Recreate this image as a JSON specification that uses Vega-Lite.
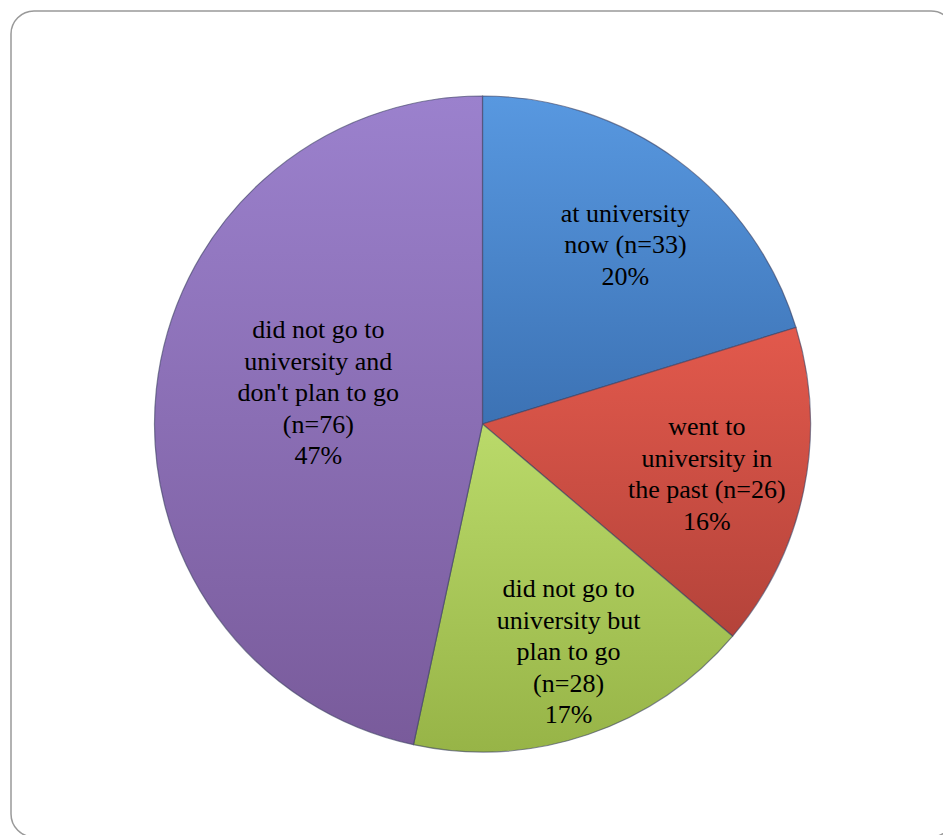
{
  "$schema": "https://vega.github.io/schema/vega-lite/v6.json",
  "width": 943,
  "height": 835,
  "autosize": {"type": "fit", "contains": "padding"},
  "padding": {"left": 11, "top": 11, "right": -11, "bottom": -2},
  "background": "white",
  "view": {"stroke": "#999999", "strokeWidth": 1.5, "cornerRadius": 23, "fill": "white"},
  "config": {"font": "Liberation Serif"},
  "data": {
    "values": [
      {"category": "at university now", "order": 1, "n": 33, "label": "at university\nnow (n=33)\n20%"},
      {"category": "went to university in the past", "order": 2, "n": 26, "label": "went to\nuniversity in\nthe past (n=26)\n16%"},
      {"category": "did not go to university but plan to go", "order": 3, "n": 28, "label": "did not go to\nuniversity but\nplan to go\n(n=28)\n17%"},
      {"category": "did not go to university and don't plan to go", "order": 4, "n": 76, "label": "did not go to\nuniversity and\ndon't plan to go\n(n=76)\n47%"}
    ]
  },
  "transform": [
    {"stack": "n", "groupby": [], "sort": [{"field": "order", "order": "ascending"}], "as": ["start", "end"]}
  ],
  "layer": [
    {
      "transform": [{"filter": "datum.order === 1"}],
      "mark": {"type": "arc", "outerRadius": 328, "stroke": "#3a3f60", "strokeWidth": 1.2, "strokeOpacity": 0.6,
        "fill": {"gradient": "linear", "x1": 0, "y1": 0, "x2": 0, "y2": 1, "stops": [{"offset": 0, "color": "#5898E0"}, {"offset": 1, "color": "#3C72B4"}]}},
      "encoding": {
        "theta": {"field": "start", "type": "quantitative", "scale": {"domain": [0, 163]}},
        "theta2": {"field": "end"}
      }
    },
    {
      "transform": [{"filter": "datum.order === 2"}],
      "mark": {"type": "arc", "outerRadius": 328, "stroke": "#3a3f60", "strokeWidth": 1.2, "strokeOpacity": 0.6,
        "fill": {"gradient": "linear", "x1": 0, "y1": 0, "x2": 0, "y2": 1, "stops": [{"offset": 0, "color": "#E2594C"}, {"offset": 1, "color": "#B4433A"}]}},
      "encoding": {
        "theta": {"field": "start", "type": "quantitative", "scale": {"domain": [0, 163]}},
        "theta2": {"field": "end"}
      }
    },
    {
      "transform": [{"filter": "datum.order === 3"}],
      "mark": {"type": "arc", "outerRadius": 328, "stroke": "#3a3f60", "strokeWidth": 1.2, "strokeOpacity": 0.6,
        "fill": {"gradient": "linear", "x1": 0, "y1": 0, "x2": 0, "y2": 1, "stops": [{"offset": 0, "color": "#BADA6A"}, {"offset": 1, "color": "#97B447"}]}},
      "encoding": {
        "theta": {"field": "start", "type": "quantitative", "scale": {"domain": [0, 163]}},
        "theta2": {"field": "end"}
      }
    },
    {
      "transform": [{"filter": "datum.order === 4"}],
      "mark": {"type": "arc", "outerRadius": 328, "stroke": "#3a3f60", "strokeWidth": 1.2, "strokeOpacity": 0.6,
        "fill": {"gradient": "linear", "x1": 0, "y1": 0, "x2": 0, "y2": 1, "stops": [{"offset": 0, "color": "#9B81CD"}, {"offset": 1, "color": "#795B9B"}]}},
      "encoding": {
        "theta": {"field": "start", "type": "quantitative", "scale": {"domain": [0, 163]}},
        "theta2": {"field": "end"}
      }
    },
    {
      "mark": {"type": "text", "radius": 229, "thetaOffset": 0.038, "dy": -31.5, "font": "Liberation Serif", "fontSize": 26, "lineHeight": 31.5, "lineBreak": "\n", "color": "#000000", "align": "center", "baseline": "middle"},
      "encoding": {
        "theta": {"field": "n", "type": "quantitative", "stack": true, "scale": {"domain": [0, 163]}},
        "order": {"field": "order", "type": "quantitative"},
        "text": {"condition": {"test": "datum.order === 1", "field": "label"}, "value": ""}
      }
    },
    {
      "mark": {"type": "text", "radius": 230, "thetaOffset": 0.02, "dy": -47.5, "font": "Liberation Serif", "fontSize": 26, "lineHeight": 31.5, "lineBreak": "\n", "color": "#000000", "align": "center", "baseline": "middle"},
      "encoding": {
        "theta": {"field": "n", "type": "quantitative", "stack": true, "scale": {"domain": [0, 163]}},
        "order": {"field": "order", "type": "quantitative"},
        "text": {"condition": {"test": "datum.order === 2", "field": "label"}, "value": ""}
      }
    },
    {
      "mark": {"type": "text", "radius": 244, "thetaOffset": -0.033, "dy": -63, "font": "Liberation Serif", "fontSize": 26, "lineHeight": 31.5, "lineBreak": "\n", "color": "#000000", "align": "center", "baseline": "middle"},
      "encoding": {
        "theta": {"field": "n", "type": "quantitative", "stack": true, "scale": {"domain": [0, 163]}},
        "order": {"field": "order", "type": "quantitative"},
        "text": {"condition": {"test": "datum.order === 3", "field": "label"}, "value": ""}
      }
    },
    {
      "mark": {"type": "text", "radius": 167, "thetaOffset": 0.078, "dy": -63, "font": "Liberation Serif", "fontSize": 26, "lineHeight": 31.5, "lineBreak": "\n", "color": "#000000", "align": "center", "baseline": "middle"},
      "encoding": {
        "theta": {"field": "n", "type": "quantitative", "stack": true, "scale": {"domain": [0, 163]}},
        "order": {"field": "order", "type": "quantitative"},
        "text": {"condition": {"test": "datum.order === 4", "field": "label"}, "value": ""}
      }
    }
  ]
}
